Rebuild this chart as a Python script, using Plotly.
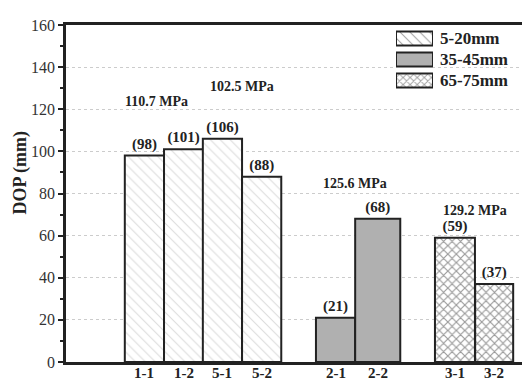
import plotly.graph_objects as go

# Penetration depth (DOP) per specimen, grouped by aggregate size
groups = ["5-20mm", "35-45mm", "65-75mm"]
specimens = [["1-1", "1-2", "5-1", "5-2"], ["2-1", "2-2"], ["3-1", "3-2"]]
dop = [[98, 101, 106, 88], [21, 68], [59, 37]]

# Compressive strength notes
strength_text = ["110.7 MPa", "102.5 MPa", "125.6 MPa", "129.2 MPa"]

# Layout helpers (bar slots along the category axis)
positions = [[2.0, 3.0, 3.99, 4.99], [6.875, 7.95], [9.92, 10.92]]
widths = [[1.0, 1.0, 1.0, 1.0], [1.0, 1.15], [1.02, 0.97]]
strength_pos = [(2.32, 123.5), (4.49, 131), (7.37, 84.7), (10.43, 72)]

SERIF = "Liberation Serif"
INK = "#222222"

styles = [
    dict(color="white", pattern=dict(shape="\\", fgcolor="#b8b8b8", bgcolor="white",
                                     size=7, solidity=0.15)),
    dict(color="#b0b0b0"),
    dict(color="white", pattern=dict(shape="x", fgcolor="#333333", bgcolor="white",
                                     size=6, solidity=0.35)),
]

fig = go.Figure()

for g, name in enumerate(groups):
    fig.add_trace(go.Bar(
        x=positions[g], y=dop[g], width=widths[g], name=name,
        marker=dict(line=dict(color=INK, width=2), **styles[g]),
        text=[f"<b>({v})</b>" for v in dop[g]], textposition="outside",
        textfont=dict(family=SERIF, size=15, color=INK),
        cliponaxis=False, showlegend=False,
    ))

# Legend swatches drawn on a small inset axis
fig.add_trace(go.Bar(
    x=[1, 1, 1], y=[0, 1, 2], orientation="h", width=0.66,
    marker=dict(
        color=["white", "#b0b0b0", "white"],
        line=dict(color=INK, width=2),
        pattern=dict(shape=["\\", "", "x"], fgcolor=["#b8b8b8", "#b0b0b0", "#333333"],
                     bgcolor=["white", "#b0b0b0", "white"], size=[7, 7, 5],
                     solidity=[0.15, 0.15, 0.35]),
    ),
    xaxis="x2", yaxis="y2", showlegend=False, hoverinfo="skip",
))

annotations = []
for (ax, ay), txt in zip(strength_pos, strength_text):
    annotations.append(dict(x=ax, y=ay, text=f"<b>{txt}</b>", showarrow=False,
                            font=dict(family=SERIF, size=14, color=INK)))

for i, name in enumerate(groups):
    annotations.append(dict(x=0.8155, y=i, xref="paper", yref="y2", text=f"<b>{name}</b>",
                            xanchor="left", yanchor="middle", showarrow=False,
                            font=dict(family=SERIF, size=17, color=INK)))

# Specimen labels under each bar
for grp_pos, grp_names in zip(positions, specimens):
    for p, s in zip(grp_pos, grp_names):
        annotations.append(dict(x=p, y=0, xref="x", yref="paper", text=f"<b>{s}</b>",
                                xanchor="center", yanchor="top", yshift=-1, showarrow=False,
                                font=dict(family=SERIF, size=15, color=INK)))

# Y-axis title
annotations.append(dict(x=-0.101, y=90, xref="paper", yref="y", text="<b>DOP (mm)</b>",
                        textangle=-90, xanchor="center", yanchor="middle", showarrow=False,
                        font=dict(family=SERIF, size=18, color=INK)))

fig.update_layout(
    width=522, height=379,
    margin=dict(l=66, r=0, t=25, b=17, autoexpand=False),
    paper_bgcolor="white", plot_bgcolor="white",
    font=dict(family=SERIF, color=INK),
    barmode="overlay",
    annotations=annotations,
    xaxis=dict(
        range=[0, 11.63], showticklabels=False,
        showline=True, linecolor=INK, linewidth=2.5, mirror=True,
        showgrid=False, zeroline=False, ticks="", automargin=False,
    ),
    yaxis=dict(
        range=[0, 160], tickvals=list(range(0, 161, 20)),
        tickfont=dict(family=SERIF, size=16, color="#333333"),
        showline=True, linecolor=INK, linewidth=2.5,
        ticks="outside", ticklen=5, tickwidth=2, tickcolor=INK,
        minor=dict(dtick=10, ticks="outside", ticklen=3, tickwidth=1.5, tickcolor=INK,
                   showgrid=False),
        showgrid=True, gridcolor="#cccccc", griddash="dot", gridwidth=1,
        zeroline=False, automargin=False,
    ),
    xaxis2=dict(domain=[0.7237, 0.8048], range=[0, 1], visible=False, anchor="y2"),
    yaxis2=dict(domain=[0.804, 0.991], range=[2.5, -0.5], visible=False, anchor="x2"),
)

fig.write_html("out.html")
